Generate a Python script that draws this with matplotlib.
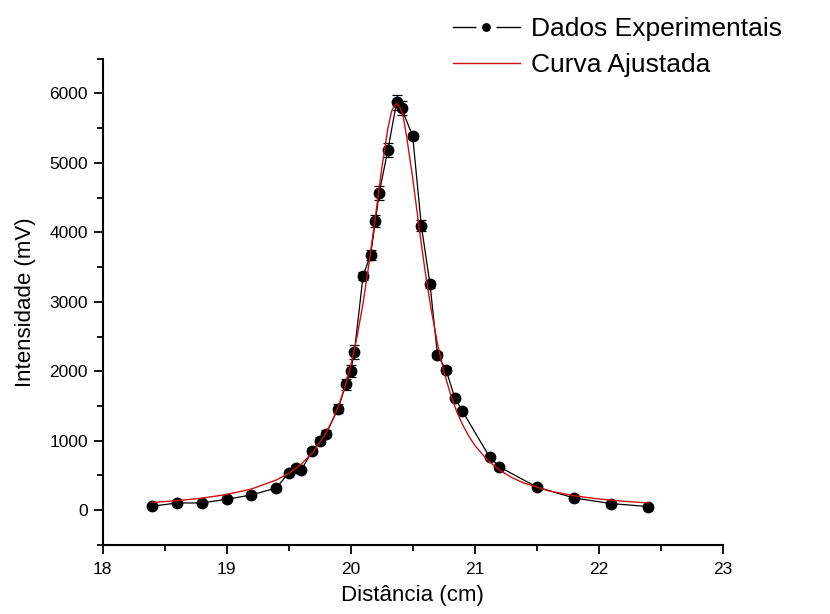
import matplotlib
matplotlib.use("Agg")
import matplotlib.pyplot as plt
from matplotlib.lines import Line2D
from matplotlib.ticker import MultipleLocator

plt.rcParams["font.family"] = ["Liberation Sans", "DejaVu Sans"]

# ── data ──────────────────────────────────────────────────────────────────────
dist_cm = [18.40, 18.60, 18.80, 19.00, 19.20, 19.40, 19.50, 19.56, 19.60,
           19.69, 19.75, 19.80, 19.90, 19.96, 20.00, 20.03, 20.10, 20.16,
           20.20, 20.23, 20.30, 20.37, 20.41, 20.50, 20.57, 20.64, 20.70,
           20.77, 20.84, 20.90, 21.12, 21.20, 21.50, 21.80, 22.10, 22.40]
intens_mv = [58, 105, 105, 158, 220, 321, 537, 614, 576,
             850, 998, 1104, 1464, 1810, 2001, 2278, 3374, 3672,
             4161, 4569, 5184, 5870, 5784, 5385, 4094, 3249, 2236,
             2015, 1616, 1430, 767, 623, 335, 177, 96, 53]
intens_err = [5, 5, 5, 8, 10, 15, 25, 30, 30,
              40, 50, 55, 70, 80, 90, 100, 60, 75,
              85, 100, 100, 110, 100, 40, 80, 50, 40,
              40, 35, 30, 20, 15, 10, 8, 5, 5]

# fitted curve, sampled off the red line
fit_x = [18.40, 18.60, 18.80, 19.00, 19.20, 19.40, 19.50, 19.60, 19.70,
         19.80, 19.85, 19.90, 19.95, 20.00, 20.05, 20.10, 20.15, 20.20,
         20.25, 20.30, 20.33, 20.35, 20.37, 20.39, 20.42, 20.45, 20.50,
         20.55, 20.60, 20.65, 20.70, 20.75, 20.80, 20.85, 20.90, 20.95,
         21.00, 21.10, 21.20, 21.30, 21.40, 21.60, 21.80, 22.00, 22.20,
         22.40]
fit_y = [112, 138, 174, 227, 306, 435, 531, 662, 843,
         1104, 1278, 1492, 1755, 2081, 2485, 2978, 3580, 4232,
         4914, 5494, 5740, 5819, 5850, 5822, 5700, 5393, 4781,
         4095, 3442, 2880, 2397, 2010, 1698, 1445, 1241, 1073,
         936, 727, 578, 470, 389, 278, 209, 162, 129,
         105]

fig = plt.figure(figsize=(8.30, 6.14), dpi=100)
ax = fig.add_axes([0.1237, 0.1124, 0.747, 0.7922])

ax.errorbar(dist_cm, intens_mv, yerr=intens_err, color="black", lw=0.9,
            marker="o", ms=7.5, elinewidth=0.9, capsize=3.6, capthick=0.9,
            zorder=2)
ax.plot(fit_x, fit_y, color="#d01010", lw=1.0, zorder=3)

ax.set_xlim(18, 23)
ax.set_ylim(-500, 6500)
ax.xaxis.set_major_locator(MultipleLocator(1))
ax.xaxis.set_minor_locator(MultipleLocator(0.5))
ax.yaxis.set_major_locator(MultipleLocator(1000))
ax.yaxis.set_minor_locator(MultipleLocator(500))

for side in ("top", "right"):
    ax.spines[side].set_visible(False)
for side in ("left", "bottom"):
    ax.spines[side].set_linewidth(1.5)
ax.tick_params(which="major", direction="out", length=6.5, width=1.3,
               labelsize=12.5)
ax.tick_params(axis="x", which="major", pad=5.5)
ax.tick_params(axis="y", which="major", pad=4)
ax.tick_params(which="minor", direction="out", length=4.5, width=1.3)

ax.set_xlabel("Distância (cm)", fontsize=16, labelpad=6)
ax.set_ylabel("Intensidade (mV)", fontsize=16, labelpad=10)

# ── legend (proxy handles, gap around the marker like the original) ──────────
h_data = Line2D([], [], color="black", lw=1.0, marker="o", ms=10.4,
                mfc="black", mec="white", mew=4.0)
h_fit = Line2D([], [], color="#d01010", lw=1.0)
fig.legend([h_data, h_fit], ["Dados Experimentais", "Curva Ajustada"],
           loc="upper left", bbox_to_anchor=(0.536, 0.985), frameon=False,
           fontsize=19, handlelength=2.55, handletextpad=0.42,
           labelspacing=0.45, borderpad=0.3, borderaxespad=0.0)

fig.savefig("out.png", dpi=100)
